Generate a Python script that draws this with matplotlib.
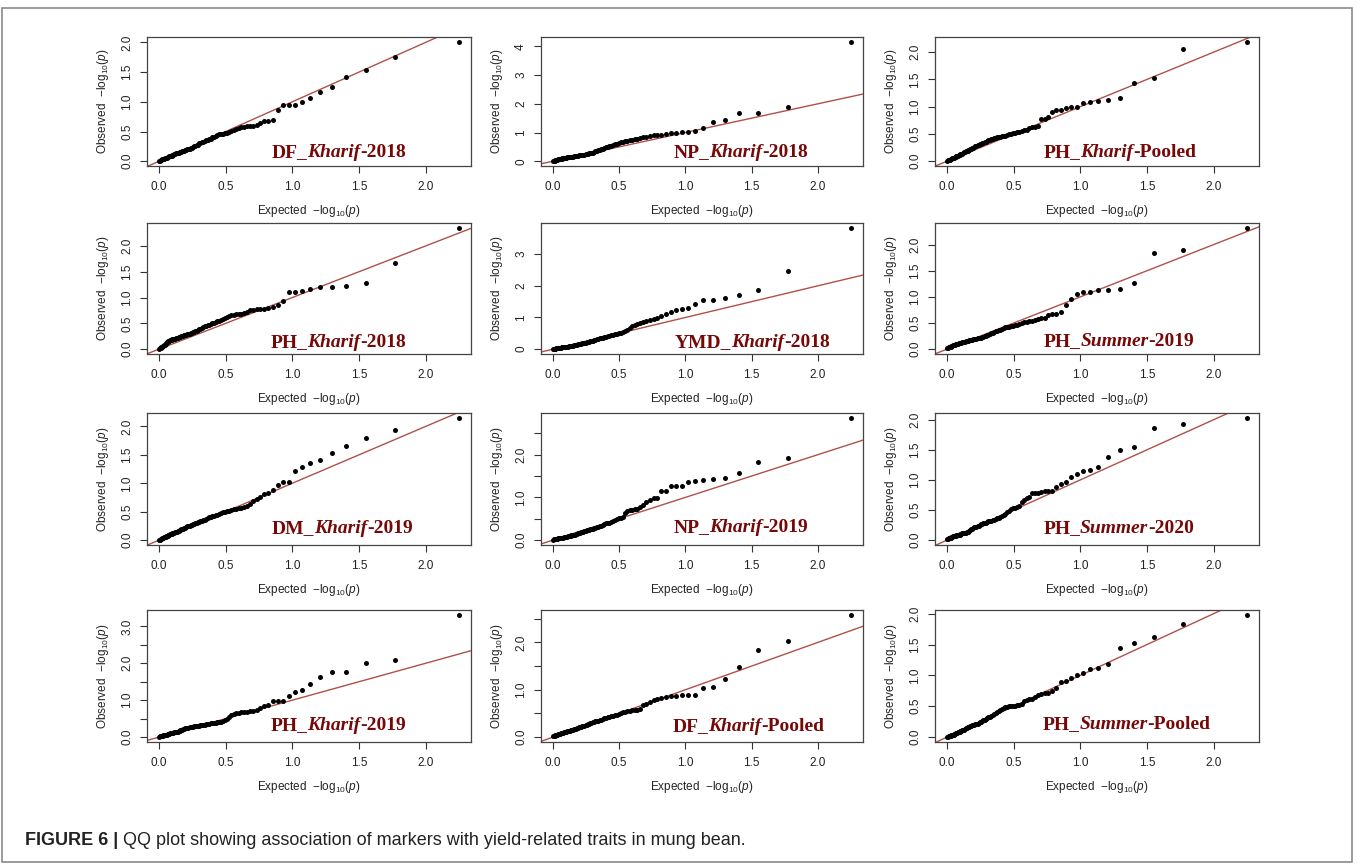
"""QQ plots (observed vs expected -log10 p) for twelve trait/season combinations."""
import matplotlib
matplotlib.use("Agg")
import matplotlib.pyplot as plt
from matplotlib.offsetbox import TextArea, HPacker, AnchoredOffsetbox
from matplotlib.patches import Rectangle

plt.rcParams["font.family"] = ["Liberation Sans", "DejaVu Sans"]
plt.rcParams["mathtext.fontset"] = "custom"
plt.rcParams["mathtext.rm"] = "Liberation Sans"
plt.rcParams["mathtext.it"] = "Liberation Sans:italic"

# expected -log10(p), shared by every panel (89 markers)
expected = [
    2.250, 1.773, 1.551, 1.405, 1.296, 1.209, 1.136, 1.074, 1.020, 0.972,
    0.928, 0.889, 0.852, 0.819, 0.788, 0.759, 0.732, 0.706, 0.682, 0.659,
    0.638, 0.617, 0.597, 0.578, 0.560, 0.543, 0.526, 0.510, 0.495, 0.480,
    0.465, 0.451, 0.438, 0.424, 0.412, 0.399, 0.387, 0.375, 0.364, 0.353,
    0.342, 0.331, 0.321, 0.311, 0.301, 0.291, 0.282, 0.273, 0.264, 0.255,
    0.246, 0.238, 0.229, 0.221, 0.213, 0.205, 0.197, 0.190, 0.182, 0.175,
    0.168, 0.161, 0.154, 0.147, 0.140, 0.133, 0.127, 0.120, 0.114, 0.107,
    0.101, 0.095, 0.089, 0.083, 0.077, 0.071, 0.066, 0.060, 0.055, 0.049,
    0.044, 0.038, 0.033, 0.028, 0.023, 0.017, 0.012, 0.007, 0.002,
]

# observed -log10(p), sorted, one list per panel
obs_df_kharif_2018 = [
    2.01, 1.76, 1.54, 1.41, 1.245, 1.165, 1.065, 1.00, 0.945, 0.94,
    0.94, 0.86, 0.70, 0.68, 0.67, 0.65, 0.61, 0.60, 0.60, 0.59,
    0.58, 0.57, 0.56, 0.55, 0.53, 0.51, 0.50, 0.48, 0.47, 0.46,
    0.45, 0.45, 0.44, 0.42, 0.41, 0.40, 0.38, 0.37, 0.36, 0.35,
    0.34, 0.33, 0.32, 0.31, 0.30, 0.28, 0.27, 0.26, 0.25, 0.24,
    0.23, 0.22, 0.21, 0.21, 0.20, 0.19, 0.19, 0.18, 0.17, 0.17,
    0.16, 0.15, 0.15, 0.14, 0.14, 0.13, 0.13, 0.12, 0.12, 0.11,
    0.10, 0.09, 0.09, 0.08, 0.08, 0.07, 0.07, 0.06, 0.06, 0.05,
    0.05, 0.04, 0.04, 0.03, 0.03, 0.02, 0.02, 0.01, 0.00,
]
obs_np_kharif_2018 = [
    4.16, 1.89, 1.69, 1.69, 1.45, 1.35, 1.17, 1.04, 1.03, 1.03,
    1.00, 0.98, 0.95, 0.93, 0.90, 0.90, 0.87, 0.85, 0.83, 0.81,
    0.79, 0.77, 0.75, 0.74, 0.72, 0.70, 0.68, 0.66, 0.64, 0.61,
    0.59, 0.56, 0.54, 0.52, 0.50, 0.48, 0.46, 0.44, 0.42, 0.40,
    0.38, 0.36, 0.34, 0.32, 0.30, 0.29, 0.28, 0.27, 0.26, 0.25,
    0.24, 0.23, 0.22, 0.22, 0.21, 0.20, 0.20, 0.19, 0.18, 0.18,
    0.17, 0.17, 0.16, 0.16, 0.15, 0.15, 0.14, 0.14, 0.13, 0.13,
    0.12, 0.12, 0.11, 0.11, 0.10, 0.10, 0.09, 0.08, 0.08, 0.07,
    0.06, 0.06, 0.05, 0.04, 0.04, 0.03, 0.02, 0.01, 0.00,
]
obs_ph_kharif_pooled = [
    2.19, 2.05, 1.52, 1.43, 1.16, 1.13, 1.11, 1.08, 1.06, 1.00,
    0.985, 0.97, 0.93, 0.93, 0.91, 0.81, 0.78, 0.78, 0.64, 0.63,
    0.62, 0.60, 0.58, 0.57, 0.55, 0.54, 0.53, 0.52, 0.51, 0.50,
    0.49, 0.48, 0.47, 0.47, 0.46, 0.45, 0.44, 0.44, 0.43, 0.42,
    0.41, 0.40, 0.39, 0.38, 0.37, 0.36, 0.35, 0.34, 0.33, 0.32,
    0.31, 0.30, 0.29, 0.28, 0.27, 0.26, 0.25, 0.24, 0.23, 0.22,
    0.21, 0.20, 0.19, 0.18, 0.18, 0.17, 0.16, 0.15, 0.14, 0.13,
    0.13, 0.12, 0.11, 0.10, 0.10, 0.09, 0.08, 0.07, 0.06, 0.06,
    0.05, 0.05, 0.04, 0.04, 0.03, 0.03, 0.02, 0.02, 0.01,
]
obs_ph_kharif_2018 = [
    2.35, 1.67, 1.28, 1.23, 1.21, 1.20, 1.17, 1.12, 1.11, 1.11,
    0.93, 0.85, 0.81, 0.795, 0.78, 0.77, 0.77, 0.76, 0.75, 0.72,
    0.70, 0.69, 0.68, 0.68, 0.67, 0.66, 0.65, 0.62, 0.60, 0.58,
    0.56, 0.55, 0.54, 0.52, 0.51, 0.50, 0.49, 0.47, 0.46, 0.45,
    0.44, 0.42, 0.41, 0.40, 0.39, 0.37, 0.36, 0.35, 0.34, 0.33,
    0.32, 0.31, 0.30, 0.29, 0.29, 0.28, 0.27, 0.27, 0.26, 0.25,
    0.25, 0.24, 0.24, 0.23, 0.22, 0.22, 0.21, 0.20, 0.20, 0.19,
    0.19, 0.18, 0.18, 0.17, 0.16, 0.15, 0.14, 0.13, 0.11, 0.10,
    0.09, 0.08, 0.07, 0.06, 0.05, 0.04, 0.03, 0.02, 0.01,
]
obs_ymd_kharif_2018 = [
    3.83, 2.48, 1.88, 1.71, 1.60, 1.56, 1.54, 1.44, 1.29, 1.26,
    1.23, 1.18, 1.10, 1.05, 0.98, 0.95, 0.92, 0.89, 0.86, 0.82,
    0.79, 0.76, 0.72, 0.67, 0.60, 0.56, 0.54, 0.52, 0.50, 0.49,
    0.47, 0.45, 0.44, 0.42, 0.41, 0.39, 0.38, 0.36, 0.35, 0.34,
    0.33, 0.31, 0.30, 0.28, 0.27, 0.26, 0.25, 0.24, 0.22, 0.21,
    0.20, 0.19, 0.18, 0.18, 0.17, 0.16, 0.16, 0.15, 0.14, 0.13,
    0.12, 0.12, 0.11, 0.11, 0.10, 0.10, 0.09, 0.09, 0.08, 0.08,
    0.08, 0.07, 0.07, 0.07, 0.06, 0.06, 0.06, 0.05, 0.05, 0.05,
    0.04, 0.04, 0.04, 0.03, 0.03, 0.02, 0.02, 0.01, 0.00,
]
obs_ph_summer_2019 = [
    2.32, 1.89, 1.84, 1.26, 1.15, 1.135, 1.135, 1.10, 1.085, 1.06,
    0.965, 0.85, 0.71, 0.675, 0.67, 0.66, 0.60, 0.59, 0.57, 0.55,
    0.54, 0.53, 0.52, 0.51, 0.50, 0.48, 0.47, 0.46, 0.45, 0.44,
    0.43, 0.43, 0.42, 0.40, 0.39, 0.37, 0.36, 0.35, 0.34, 0.33,
    0.31, 0.30, 0.29, 0.28, 0.27, 0.26, 0.25, 0.24, 0.23, 0.22,
    0.22, 0.21, 0.21, 0.20, 0.20, 0.19, 0.19, 0.18, 0.18, 0.17,
    0.17, 0.16, 0.16, 0.15, 0.15, 0.14, 0.14, 0.13, 0.13, 0.12,
    0.12, 0.11, 0.11, 0.10, 0.10, 0.09, 0.09, 0.08, 0.08, 0.07,
    0.07, 0.06, 0.06, 0.05, 0.05, 0.04, 0.04, 0.03, 0.03,
]
obs_dm_kharif_2019 = [
    2.15, 1.94, 1.79, 1.66, 1.53, 1.41, 1.365, 1.28, 1.21, 1.02,
    1.02, 0.975, 0.88, 0.82, 0.805, 0.75, 0.73, 0.69, 0.63, 0.60,
    0.58, 0.57, 0.56, 0.55, 0.54, 0.53, 0.52, 0.51, 0.50, 0.49,
    0.47, 0.46, 0.45, 0.44, 0.43, 0.42, 0.41, 0.40, 0.39, 0.37,
    0.36, 0.35, 0.34, 0.33, 0.32, 0.31, 0.30, 0.30, 0.29, 0.28,
    0.27, 0.26, 0.25, 0.24, 0.24, 0.23, 0.22, 0.21, 0.20, 0.19,
    0.19, 0.18, 0.17, 0.16, 0.16, 0.15, 0.14, 0.14, 0.13, 0.12,
    0.12, 0.11, 0.11, 0.10, 0.09, 0.09, 0.08, 0.07, 0.07, 0.06,
    0.05, 0.05, 0.04, 0.03, 0.03, 0.02, 0.02, 0.01, 0.00,
]
obs_np_kharif_2019 = [
    2.86, 1.91, 1.82, 1.57, 1.45, 1.435, 1.41, 1.38, 1.35, 1.27,
    1.27, 1.27, 1.14, 1.14, 0.98, 0.98, 0.94, 0.90, 0.82, 0.77,
    0.73, 0.72, 0.71, 0.70, 0.67, 0.63, 0.55, 0.52, 0.51, 0.50,
    0.46, 0.44, 0.43, 0.41, 0.40, 0.39, 0.38, 0.36, 0.34, 0.32,
    0.31, 0.30, 0.29, 0.28, 0.27, 0.26, 0.25, 0.24, 0.23, 0.23,
    0.22, 0.21, 0.20, 0.19, 0.18, 0.17, 0.17, 0.16, 0.15, 0.14,
    0.13, 0.13, 0.12, 0.12, 0.11, 0.10, 0.10, 0.09, 0.09, 0.08,
    0.08, 0.08, 0.07, 0.07, 0.06, 0.06, 0.05, 0.05, 0.05, 0.04,
    0.04, 0.04, 0.03, 0.03, 0.03, 0.02, 0.02, 0.02, 0.01,
]
obs_ph_summer_2020 = [
    2.03, 1.93, 1.87, 1.54, 1.49, 1.38, 1.21, 1.165, 1.15, 1.10,
    1.05, 0.97, 0.93, 0.89, 0.82, 0.81, 0.81, 0.80, 0.79, 0.78,
    0.78, 0.71, 0.70, 0.66, 0.64, 0.56, 0.55, 0.54, 0.53, 0.51,
    0.49, 0.46, 0.43, 0.41, 0.40, 0.38, 0.37, 0.36, 0.35, 0.34,
    0.33, 0.32, 0.32, 0.31, 0.30, 0.29, 0.28, 0.28, 0.27, 0.26,
    0.25, 0.24, 0.23, 0.22, 0.22, 0.21, 0.20, 0.19, 0.18, 0.16,
    0.15, 0.14, 0.13, 0.13, 0.12, 0.12, 0.11, 0.11, 0.11, 0.10,
    0.10, 0.09, 0.09, 0.09, 0.08, 0.08, 0.07, 0.07, 0.07, 0.06,
    0.06, 0.05, 0.05, 0.04, 0.04, 0.03, 0.03, 0.02, 0.02,
]
obs_ph_kharif_2019 = [
    3.31, 2.10, 2.01, 1.77, 1.75, 1.64, 1.43, 1.27, 1.21, 1.12,
    0.99, 0.99, 0.99, 0.86, 0.83, 0.79, 0.74, 0.72, 0.71, 0.69,
    0.68, 0.67, 0.66, 0.65, 0.63, 0.60, 0.55, 0.50, 0.45, 0.43,
    0.42, 0.41, 0.40, 0.39, 0.39, 0.38, 0.37, 0.36, 0.36, 0.35,
    0.34, 0.33, 0.33, 0.32, 0.31, 0.31, 0.30, 0.29, 0.29, 0.28,
    0.28, 0.27, 0.27, 0.26, 0.26, 0.25, 0.24, 0.23, 0.22, 0.20,
    0.19, 0.18, 0.17, 0.16, 0.15, 0.15, 0.14, 0.13, 0.13, 0.12,
    0.12, 0.11, 0.10, 0.10, 0.09, 0.08, 0.08, 0.07, 0.07, 0.06,
    0.06, 0.05, 0.05, 0.04, 0.04, 0.03, 0.03, 0.02, 0.01,
]
obs_df_kharif_pooled = [
    2.58, 2.03, 1.84, 1.47, 1.22, 1.05, 1.03, 0.88, 0.88, 0.88,
    0.87, 0.86, 0.84, 0.82, 0.81, 0.79, 0.75, 0.70, 0.68, 0.59,
    0.58, 0.58, 0.57, 0.56, 0.55, 0.54, 0.53, 0.51, 0.49, 0.47,
    0.46, 0.45, 0.44, 0.43, 0.42, 0.41, 0.40, 0.38, 0.37, 0.36,
    0.35, 0.34, 0.33, 0.32, 0.31, 0.30, 0.29, 0.28, 0.27, 0.26,
    0.25, 0.24, 0.23, 0.23, 0.22, 0.21, 0.21, 0.20, 0.19, 0.18,
    0.17, 0.17, 0.16, 0.15, 0.15, 0.14, 0.13, 0.13, 0.12, 0.12,
    0.11, 0.11, 0.10, 0.10, 0.09, 0.09, 0.08, 0.08, 0.07, 0.07,
    0.06, 0.06, 0.05, 0.05, 0.04, 0.04, 0.03, 0.03, 0.02,
]
obs_ph_summer_pooled = [
    1.98, 1.83, 1.62, 1.53, 1.44, 1.18, 1.12, 1.11, 1.04, 1.00,
    0.95, 0.91, 0.89, 0.79, 0.74, 0.72, 0.72, 0.70, 0.68, 0.65,
    0.62, 0.61, 0.60, 0.58, 0.53, 0.52, 0.52, 0.51, 0.51, 0.50,
    0.50, 0.49, 0.48, 0.47, 0.45, 0.44, 0.42, 0.40, 0.39, 0.37,
    0.36, 0.35, 0.33, 0.32, 0.31, 0.30, 0.28, 0.27, 0.26, 0.25,
    0.24, 0.23, 0.22, 0.22, 0.21, 0.20, 0.20, 0.19, 0.18, 0.18,
    0.17, 0.16, 0.16, 0.15, 0.14, 0.13, 0.12, 0.12, 0.11, 0.10,
    0.10, 0.09, 0.09, 0.08, 0.07, 0.07, 0.06, 0.05, 0.05, 0.04,
    0.04, 0.03, 0.03, 0.02, 0.02, 0.01, 0.01, 0.00, 0.00,
]

observed = [
    obs_df_kharif_2018, obs_np_kharif_2018, obs_ph_kharif_pooled,
    obs_ph_kharif_2018, obs_ymd_kharif_2018, obs_ph_summer_2019,
    obs_dm_kharif_2019, obs_np_kharif_2019, obs_ph_summer_2020,
    obs_ph_kharif_2019, obs_df_kharif_pooled, obs_ph_summer_pooled,
]
traits = ["DF", "NP", "PH", "PH", "YMD", "PH", "DM", "NP", "PH", "PH", "DF", "PH"]
seasons = ["Kharif", "Kharif", "Kharif", "Kharif", "Kharif", "Summer",
           "Kharif", "Kharif", "Summer", "Kharif", "Kharif", "Summer"]
years = ["2018", "2018", "Pooled", "2018", "2018", "2019",
         "2019", "2019", "2020", "2019", "Pooled", "Pooled"]

# y tick values and their labels ('' where R drops an overlapping label)
yticks = [
    [0, 0.5, 1, 1.5, 2], [0, 1, 2, 3, 4], [0, 0.5, 1, 1.5, 2],
    [0, 0.5, 1, 1.5, 2], [0, 1, 2, 3], [0, 0.5, 1, 1.5, 2],
    [0, 0.5, 1, 1.5, 2], [0, 0.5, 1, 1.5, 2, 2.5], [0, 0.5, 1, 1.5, 2],
    [0, 0.5, 1, 1.5, 2, 2.5, 3], [0, 0.5, 1, 1.5, 2, 2.5], [0, 0.5, 1, 1.5, 2],
]
dec = ["0.0", "0.5", "1.0", "1.5", "2.0"]
sparse = ["0.0", "", "1.0", "", "2.0", "", "3.0"]
ytick_labels = [
    dec, ["0", "1", "2", "3", "4"], dec,
    dec, ["0", "1", "2", "3"], dec,
    dec, sparse[:6], dec,
    sparse, sparse[:6], dec,
]
xticks = [0, 0.5, 1, 1.5, 2]
xtick_labels = ["0.0", "0.5", "1.0", "1.5", "2.0"]

# layout (pixels of the 1358x866 canvas)
W, H = 1358, 866
cols = [(147, 471), (541, 863), (935, 1259)]
rows = [(37, 166), (223, 354), (413, 545), (610, 742)]
# right edge / baseline of the trait label, axes fraction
label_pos = [
    (0.80, 0.07), (0.83, 0.07), (0.806, 0.07),
    (0.80, 0.055), (0.897, 0.055), (0.80, 0.06),
    (0.82, 0.09), (0.83, 0.10), (0.80, 0.09),
    (0.80, 0.09), (0.88, 0.08), (0.85, 0.10),
]

LINE = "#b0504a"
LABEL = "#760808"
AXC = "#333333"

fig = plt.figure(figsize=(W / 100, H / 100), dpi=100)

for i, obs in enumerate(observed):
    r, c = divmod(i, 3)
    x0, x1 = cols[c]
    y0, y1 = rows[r]
    ax = fig.add_axes([x0 / W, 1 - y1 / H, (x1 - x0) / W, (y1 - y0) / H])
    ax.plot(expected[:len(obs)], obs, "o", color="black", ms=3.6, mew=0, zorder=3)
    ax.axline((0, 0), slope=1, color=LINE, lw=1.0, zorder=2)
    ax.margins(0.04)

    ax.set_xticks(xticks)
    ax.set_xticklabels(xtick_labels)
    ax.set_yticks(yticks[i])
    ax.set_yticklabels(ytick_labels[i], rotation=90, va="center")
    ax.tick_params(direction="out", length=5, width=0.8, colors=AXC,
                   labelsize=8.5, labelcolor="#222222")
    ax.tick_params(axis="x", pad=6)
    ax.tick_params(axis="y", pad=5)
    for s in ax.spines.values():
        s.set_color("#444444")
        s.set_linewidth(0.9)

    ax.set_xlabel(r"Expected  $-\mathrm{log}_{10}(p)$", fontsize=8.5,
                  color="#222222", va="center")
    ax.xaxis.set_label_coords(0.5, -45 / (y1 - y0))
    ax.set_ylabel(r"Observed  $-\mathrm{log}_{10}(p)$", fontsize=8.5,
                  color="#222222", va="center")
    ax.yaxis.set_label_coords(-44 / (x1 - x0), 0.5)

    # trait label: roman parts with the season in italics
    tp = dict(family="Liberation Serif", size=14, weight="bold", color=LABEL)
    parts = [
        TextArea(f"{traits[i]}_", textprops=tp),
        TextArea(seasons[i], textprops=dict(tp, style="italic")),
        TextArea(f"-{years[i]}", textprops=tp),
    ]
    box = HPacker(children=parts, align="baseline", pad=0, sep=0)
    lx, ly = label_pos[i]
    anc = AnchoredOffsetbox(loc="lower right", child=box, pad=0, borderpad=0,
                            frameon=False, bbox_to_anchor=(lx, ly - 0.03),
                            bbox_transform=ax.transAxes)
    ax.add_artist(anc)

# outer frame
fig.add_artist(Rectangle((2 / W, 1 - 862 / H), 1350 / W, 854 / H,
                         transform=fig.transFigure, fill=False,
                         edgecolor="#8a8a8a", lw=1.2))

# caption
t1 = fig.text(25 / W, 1 - 845 / H, "FIGURE 6 |", fontsize=13, weight="bold",
              color="#222222", va="baseline")
fig.canvas.draw()
bb = t1.get_window_extent()
fig.text((bb.x1 + 5) / W, 1 - 845 / H,
         "QQ plot showing association of markers with yield-related traits in mung bean.",
         fontsize=13, color="#222222", va="baseline")

fig.savefig("out.png", dpi=100)
